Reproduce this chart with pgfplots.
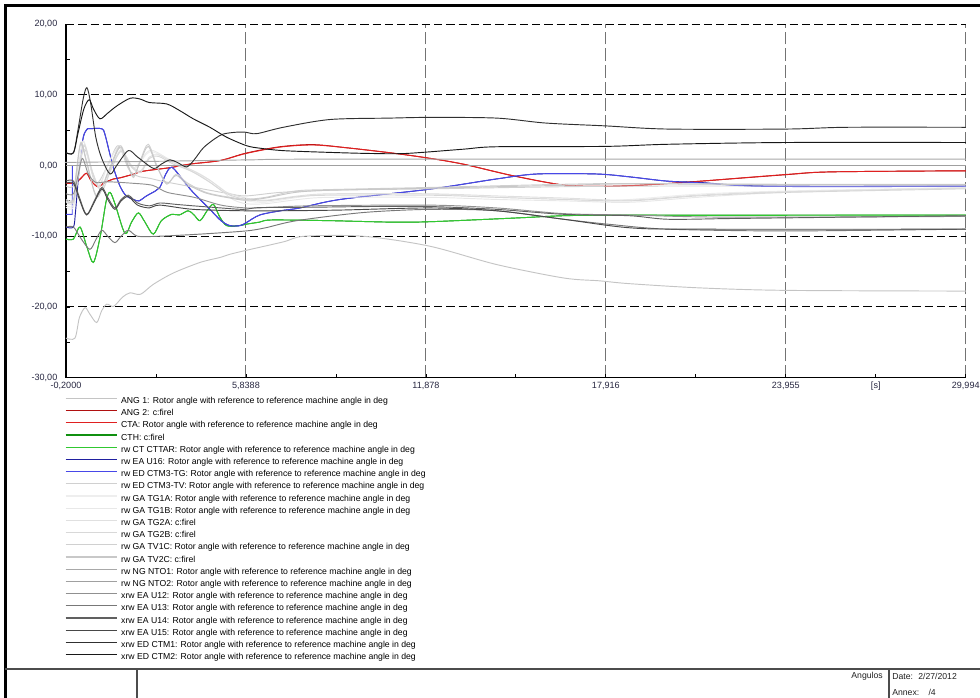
\documentclass[border=0pt]{standalone}
\usepackage{fontspec}
\setmainfont{Liberation Sans}
\usepackage{pgfplots}
\pgfplotsset{compat=1.18}
\newcommand\sm{\fontsize{6.8}{8}\selectfont}
\newcommand\legf{\fontsize{6.5}{8}\selectfont}
\definecolor{cang1}{HTML}{C4C4C4}
\definecolor{cang2}{HTML}{B01010}
\definecolor{ccta}{HTML}{E02020}
\definecolor{ccth}{HTML}{109010}
\definecolor{ccttar}{HTML}{30C830}
\definecolor{cu16}{HTML}{2020A0}
\definecolor{ctg}{HTML}{4848E8}
\definecolor{ctv}{HTML}{D0D0D0}
\definecolor{ctg1a}{HTML}{EEEEEE}
\definecolor{ctg1b}{HTML}{E8E8E8}
\definecolor{ctg2a}{HTML}{E0E0E0}
\definecolor{ctg2b}{HTML}{D8D8D8}
\definecolor{ctv1c}{HTML}{D0D0D0}
\definecolor{ctv2c}{HTML}{C8C8C8}
\definecolor{cnto1}{HTML}{A8A8A8}
\definecolor{cnto2}{HTML}{A0A0A0}
\definecolor{cu12}{HTML}{909090}
\definecolor{cu13}{HTML}{787878}
\definecolor{cu14}{HTML}{606060}
\definecolor{cu15}{HTML}{484848}
\definecolor{cctm1}{HTML}{303030}
\definecolor{cctm2}{HTML}{181818}
\definecolor{tickc}{HTML}{262640}
\definecolor{legc}{HTML}{202020}
\begin{document}
\begin{tikzpicture}
\begin{axis}[
  at={(49.5pt,-283.3pt)}, anchor=south west,
  width=674.8pt, height=265.3pt, scale only axis,
  xmin=-0.2, xmax=29.994, ymin=-30, ymax=20,
  clip=false,
  axis x line*=bottom, axis y line*=left,
  axis line style={line width=0.8pt, black},
  xtick={-0.2,5.8388,11.878,17.916,23.955,29.994},
  xticklabels={{-0,2000},{5,8388},{11,878},{17,916},{23,955},{29,994}},
  minor xtick={2.8194,8.8584,14.897,20.9355,26.9745},
  ytick={-30,-20,-10,0,10,20},
  yticklabels={{-30,00},{-20,00},{-10,00},{0,00},{10,00},{20,00}},
  minor ytick={-25,-15,-5,5,15},
  tick align=inside, major tick length=3pt, minor tick length=3pt,
  tick style={black, line width=0.6pt},
  xticklabel style={font=\sm, text=tickc, inner sep=0pt, anchor=north, yshift=-3pt},
  yticklabel style={font=\sm, text=tickc, inner sep=0pt, anchor=east, xshift=-6.3pt},
  grid=major,
  x grid style={color=black!55, dash pattern=on 9.5pt off 3pt, line width=0.75pt},
  y grid style={color=black, dash pattern=on 6.2pt off 3pt, line width=0.75pt},
  every axis plot/.append style={line width=0.7pt, mark=none, smooth},
  legend style={at={(axis description cs:0,0)}, anchor=north west, xshift=-0.75pt, yshift=-14.6pt,
    draw=none, fill=none, font=\legf, inner sep=0pt, outer sep=0pt, row sep=2.95pt,
    nodes={inner sep=0pt, text height=4.7pt, text depth=1.5pt},
    /tikz/every odd column/.append style={column sep=3pt}},
  legend cell align=left,
  legend image code/.code={\draw[#1, line width=0.95pt] (0pt,2.25pt) -- (38.2pt,2.25pt);},
]
% 1 ANG 1
\addplot[color=cang1] coordinates {(-0.2,-24.4)(0.1,-24.4)(0.25,-21.5)(0.44,-20.1)(0.6,-21.0)(0.83,-22.2)(1.0,-20.5)(1.17,-19.6)(1.4,-19.9)(1.7,-18.6)(1.95,-18.0)(2.3,-18.2)(2.73,-16.8)(3.4,-15.2)(4.3,-13.7)(4.97,-13.0)(5.3,-12.55)(5.84,-12.0)(7.09,-10.8)(7.8,-10.0)(9.77,-10.0)(12.0,-11.4)(14.25,-14.0)(16.5,-15.9)(17.7,-16.3)(18.7,-16.7)(21.07,-17.3)(23.96,-17.65)(29.994,-17.75)};
\addlegendentry{ANG 1: Rotor angle with reference to reference machine angle in deg}
% 2 ANG 2
\addplot[color=cang2] coordinates {(-0.2,-2.5)(0.1,-2.5)(0.3,-1.8)(0.49,-1.1)(0.65,-2.2)(0.87,-3.0)(1.1,-2.4)(1.4,-1.9)(1.61,-1.75)(2.0,-1.3)(2.4,-0.8)(3.3,-0.3)(3.96,0.2)(4.97,0.7)(5.84,1.75)(6.98,2.65)(8.09,2.95)(9.23,2.5)(10.67,1.8)(11.88,1.1)(13.12,0.2)(14.8,-1.45)(16.47,-2.75)(17.7,-2.95)(19.0,-2.8)(20.83,-2.3)(23.96,-1.3)(25.5,-0.9)(29.994,-0.75)};
\addlegendentry{ANG 2: c:firel}
% 3 CTA
\addplot[color=ccta] coordinates {(-0.2,-2.5)(0.1,-2.5)(0.3,-1.8)(0.49,-1.1)(0.65,-2.2)(0.87,-3.0)(1.1,-2.4)(1.4,-1.9)(1.61,-1.75)(2.0,-1.3)(2.4,-0.8)(3.3,-0.3)(3.96,0.2)(4.97,0.7)(5.84,1.7)(6.98,2.6)(8.09,2.9)(9.23,2.5)(10.67,1.8)(11.88,1.1)(13.12,0.2)(14.8,-1.45)(16.47,-2.75)(17.7,-2.95)(19.0,-2.8)(20.83,-2.3)(23.96,-1.27)(25.5,-0.9)(29.994,-0.75)};
\addlegendentry{CTA: Rotor angle with reference to reference machine angle in deg}
% 4 CTH
\addplot[color=ccth] coordinates {(-0.2,-10.4)(0.05,-10.4)(0.27,-8.7)(0.5,-11.5)(0.72,-13.7)(0.95,-10.0)(1.15,-5.0)(1.28,-3.8)(1.45,-5.5)(1.78,-9.6)(2.0,-8.0)(2.23,-6.7)(2.45,-8.0)(2.73,-9.7)(3.0,-7.8)(3.35,-6.9)(3.6,-7.0)(3.9,-6.4)(4.1,-7.0)(4.3,-7.8)(4.55,-6.3)(4.75,-5.5)(4.95,-7.2)(5.19,-8.5)(5.6,-8.5)(5.84,-8.3)(6.3,-8.0)(6.7,-7.7)(8.66,-7.8)(10.67,-8.0)(12,-7.95)(15,-7.4)(16.5,-7.1)(18.7,-7.0)(29.994,-7.0)};
\addlegendentry{CTH: c:firel}
% 5 rw CT CTTAR
\addplot[color=ccttar] coordinates {(-0.2,-10.4)(0.05,-10.4)(0.27,-8.7)(0.5,-11.5)(0.72,-13.7)(0.95,-10.0)(1.15,-5.0)(1.28,-3.8)(1.45,-5.5)(1.78,-9.6)(2.0,-8.0)(2.23,-6.7)(2.45,-8.0)(2.73,-9.7)(3.0,-7.8)(3.35,-6.9)(3.6,-7.0)(3.9,-6.4)(4.1,-7.0)(4.3,-7.8)(4.55,-6.3)(4.75,-5.5)(4.95,-7.2)(5.19,-8.5)(5.6,-8.5)(5.84,-8.3)(6.3,-8.0)(6.7,-7.7)(8.66,-7.8)(10.67,-8.0)(12,-7.95)(15,-7.4)(16.5,-7.1)(18.7,-7.0)(21,-7.05)(29.994,-7.0)};
\addlegendentry{rw CT CTTAR: Rotor angle with reference to reference machine angle in deg}
% 6 rw EA U16
\addplot[color=cu16] coordinates {(-0.2,-8.7)(0.05,-8.7)(0.12,-6.5)(0.2,-2.5)(0.27,0.6)(0.38,4.0)(0.5,5.1)(0.6,5.2)(1.0,5.2)(1.1,4.5)(1.25,2.0)(1.39,-0.3)(1.6,-2.8)(1.8,-4.2)(2.06,-4.8)(2.25,-5.0)(2.5,-4.3)(2.8,-3.6)(2.95,-3.1)(3.15,-1.2)(3.3,-0.3)(3.45,-0.6)(3.96,-3.3)(4.3,-4.8)(4.63,-6.2)(5.0,-7.8)(5.3,-8.5)(5.64,-8.5)(5.84,-8.1)(6.3,-7.0)(7.0,-6.4)(7.65,-6.0)(9.0,-4.8)(12.0,-3.35)(14.25,-1.9)(15.6,-1.2)(17.6,-1.2)(18.7,-1.6)(19.95,-2.2)(21.07,-2.4)(23.3,-2.9)(29.994,-2.9)};
\addlegendentry{rw EA U16: Rotor angle with reference to reference machine angle in deg}
% 7 rw ED CTM3-TG (initial step drawn sharp, rest smooth)
\addplot[color=ctg, sharp plot, forget plot] coordinates {(-0.2,-6.9)(0.01,-6.9)(0.012,0.0)(0.2,0.0)};
\addplot[color=ctg] coordinates {(0.2,0.0)(0.27,0.6)(0.38,4.0)(0.5,5.1)(0.6,5.2)(1.0,5.2)(1.1,4.5)(1.25,2.0)(1.39,-0.3)(1.6,-2.8)(1.8,-4.2)(2.06,-4.8)(2.25,-5.0)(2.5,-4.3)(2.8,-3.6)(2.95,-3.1)(3.15,-1.2)(3.3,-0.3)(3.45,-0.6)(3.96,-3.3)(4.3,-4.8)(4.63,-6.2)(5.0,-7.8)(5.3,-8.5)(5.64,-8.5)(5.84,-8.1)(6.3,-7.0)(7.0,-6.4)(7.65,-6.0)(9.0,-4.8)(12.0,-3.35)(14.25,-1.9)(15.6,-1.2)(17.6,-1.2)(18.7,-1.6)(19.95,-2.2)(21.07,-2.45)(23.3,-2.95)(29.994,-2.95)};
\addlegendentry{rw ED CTM3-TG: Rotor angle with reference to reference machine angle in deg}
% 8 rw ED CTM3-TV
\addplot[color=ctv] coordinates {(-0.2,-2.9)(0.05,-2.9)(0.25,0.5)(0.45,2.2)(0.8,-2.5)(1.2,0.0)(1.55,2.8)(1.9,-0.5)(2.2,-1.5)(2.6,-1.8)(3.0,-2.2)(3.5,-2.6)(4.5,-3.4)(5.3,-4.0)(5.84,-4.3)(7.0,-3.8)(8.66,-3.5)(12,-3.3)(16.5,-3.0)(20,-2.9)(29.994,-2.9)};
\addlegendentry{rw ED CTM3-TV: Rotor angle with reference to reference machine angle in deg}
% 9 rw GA TG1A
\addplot[color=ctg1a] coordinates {(-0.2,-5.9)(0.05,-5.9)(0.2,-1.0)(0.38,3.5)(0.6,0.0)(0.9,-3.0)(1.2,0.0)(1.55,2.6)(1.8,1.0)(2.1,-0.5)(2.5,1.6)(2.73,1.9)(3.29,0.7)(3.8,-0.3)(4.3,-1.2)(4.97,-3.1)(5.4,-4.5)(5.84,-5.0)(6.5,-5.2)(7.6,-4.5)(8.66,-4.05)(12.0,-4.05)(14.25,-4.5)(16.5,-4.76)(18.0,-5.0)(21.0,-4.05)(24.0,-3.6)(29.994,-3.1)};
\addlegendentry{rw GA TG1A: Rotor angle with reference to reference machine angle in deg}
% 10 rw GA TG1B
\addplot[color=ctg1b] coordinates {(-0.2,-5.6)(0.05,-5.6)(0.2,-0.8)(0.38,3.4)(0.6,0.2)(0.9,-2.8)(1.2,0.2)(1.55,2.5)(1.8,1.1)(2.1,-0.3)(2.5,1.8)(2.73,2.1)(3.29,0.8)(3.8,-0.4)(4.3,-1.4)(4.97,-3.4)(5.4,-4.8)(5.84,-5.4)(6.5,-5.4)(7.6,-4.8)(8.66,-4.5)(12.0,-4.5)(14.25,-4.8)(16.5,-5.0)(18.7,-5.2)(21.0,-4.5)(24.0,-3.8)(29.994,-3.2)};
\addlegendentry{rw GA TG1B: Rotor angle with reference to reference machine angle in deg}
% 11 rw GA TG2A
\addplot[color=ctg2a] coordinates {(-0.2,-5.0)(0.05,-5.0)(0.25,-0.5)(0.42,3.0)(0.7,-1.0)(1.0,-3.5)(1.3,-0.5)(1.65,2.2)(2.0,0.0)(2.3,-0.8)(2.6,1.2)(2.9,1.5)(3.4,0.4)(4.0,-0.6)(4.6,-2.0)(5.2,-3.8)(5.84,-4.6)(6.5,-4.9)(7.6,-4.3)(8.66,-4.0)(12,-4.0)(14.25,-4.3)(16.5,-4.6)(18.7,-4.9)(21,-4.2)(24,-3.7)(29.994,-3.2)};
\addlegendentry{rw GA TG2A: c:firel}
% 12 rw GA TG2B
\addplot[color=ctg2b] coordinates {(-0.2,-5.2)(0.05,-5.2)(0.25,-0.7)(0.42,2.8)(0.7,-1.2)(1.0,-3.6)(1.3,-0.7)(1.65,2.0)(2.0,-0.2)(2.3,-1.0)(2.6,1.0)(2.9,1.3)(3.4,0.2)(4.0,-0.8)(4.6,-2.3)(5.2,-4.0)(5.84,-4.8)(6.5,-5.0)(7.6,-4.4)(8.66,-4.2)(12,-4.2)(14.25,-4.5)(16.5,-4.8)(18.7,-5.0)(21,-4.3)(24,-3.8)(29.994,-3.3)};
\addlegendentry{rw GA TG2B: c:firel}
% 13 rw GA TV1C
\addplot[color=ctv1c] coordinates {(-0.2,-5.0)(0.05,-5.0)(0.15,-1.0)(0.3,3.3)(0.5,0.5)(0.83,-4.5)(1.2,-1.0)(1.61,2.8)(1.85,0.5)(2.06,-1.7)(2.3,0.8)(2.56,3.0)(2.85,0.0)(3.18,-2.65)(3.5,-1.2)(3.85,-2.4)(4.5,-3.8)(5.3,-4.5)(5.84,-4.76)(6.5,-4.5)(7.5,-3.6)(8.66,-3.4)(12.0,-3.1)(16.5,-2.65)(18.7,-2.55)(24.0,-2.65)(29.994,-2.65)};
\addlegendentry{rw GA TV1C: Rotor angle with reference to reference machine angle in deg}
% 14 rw GA TV2C
\addplot[color=ctv2c] coordinates {(-0.2,-4.8)(0.05,-4.8)(0.15,-0.8)(0.3,3.1)(0.5,0.3)(0.83,-4.3)(1.2,-1.2)(1.61,2.6)(1.85,0.3)(2.06,-1.5)(2.3,0.6)(2.56,2.7)(2.85,-0.2)(3.18,-2.5)(3.5,-1.4)(3.85,-2.6)(4.5,-3.9)(5.3,-4.6)(5.84,-4.9)(6.5,-4.6)(7.5,-3.8)(8.66,-3.5)(12.0,-3.2)(16.5,-2.8)(18.7,-2.6)(24.0,-2.7)(29.994,-2.7)};
\addlegendentry{rw GA TV2C: c:firel}
% 15 rw NG NTO1
\addplot[color=cnto1] coordinates {(-0.2,0.45)(0.05,0.45)(3.0,0.6)(6.0,0.8)(9.0,0.9)(29.994,0.9)};
\addlegendentry{rw NG NTO1: Rotor angle with reference to reference machine angle in deg}
% 16 rw NG NTO2
\addplot[color=cnto2, line width=0.9pt] coordinates {(-0.2,0.0)(10,0.0)(29.994,0.0)};
\addlegendentry{rw NG NTO2: Rotor angle with reference to reference machine angle in deg}
% 17 xrw EA U12
\addplot[color=cu12] coordinates {(-0.2,-4.0)(0.05,-4.0)(0.2,-1.5)(0.35,1.0)(0.55,-1.2)(0.8,-2.4)(1.2,-2.3)(2.0,-2.5)(2.7,-2.8)(3.2,-3.8)(4.1,-4.5)(5.0,-5.6)(5.84,-6.0)(6.5,-5.95)(8.0,-5.7)(12,-5.6)(14.25,-6.0)(16.5,-6.8)(18.7,-7.0)(22,-7.3)(29.994,-7.2)};
\addlegendentry{xrw EA U12: Rotor angle with reference to reference machine angle in deg}
% 18 xrw EA U13
\addplot[color=cu13] coordinates {(-0.2,-8.7)(0.05,-8.7)(0.3,-10.3)(0.6,-11.85)(0.8,-10.5)(1.0,-9.15)(1.2,-10.0)(1.44,-10.9)(1.65,-10.0)(1.89,-9.15)(2.2,-10.0)(2.9,-10.0)(4.3,-9.7)(5.84,-9.25)(6.5,-8.8)(7.54,-7.8)(9.77,-6.65)(12.0,-6.2)(14.25,-6.4)(16.5,-7.6)(18.0,-8.3)(20.0,-9.0)(24.0,-9.25)(29.994,-9.0)};
\addlegendentry{xrw EA U13: Rotor angle with reference to reference machine angle in deg}
% 19 xrw EA U14
\addplot[color=cu14] coordinates {(-0.2,-2.2)(0.05,-2.2)(0.25,-4.5)(0.49,-6.9)(0.75,-5.0)(1.0,-3.1)(1.2,-4.5)(1.44,-6.0)(1.65,-4.8)(1.89,-4.2)(2.2,-5.3)(2.6,-5.7)(2.95,-5.3)(3.5,-5.5)(4.07,-5.7)(5.0,-6.0)(5.75,-6.2)(6.3,-5.95)(8.0,-5.9)(10.0,-5.8)(12.0,-5.8)(14.25,-6.2)(16.5,-6.9)(18.7,-7.1)(20.0,-7.6)(22.0,-7.5)(24.0,-7.4)(29.994,-7.1)};
\addlegendentry{xrw EA U14: Rotor angle with reference to reference machine angle in deg}
% 20 xrw EA U15
\addplot[color=cu15] coordinates {(-0.2,-2.5)(0.05,-2.5)(0.25,-4.8)(0.49,-7.0)(0.75,-5.2)(1.0,-3.3)(1.2,-4.8)(1.44,-6.2)(1.65,-5.0)(1.89,-4.4)(2.2,-5.6)(2.6,-6.0)(2.95,-5.6)(4.07,-6.2)(5.75,-6.4)(7.0,-6.4)(9.0,-6.3)(12.0,-6.0)(14.25,-6.4)(16.5,-7.6)(18.7,-8.8)(21.0,-9.0)(29.994,-9.0)};
\addlegendentry{xrw EA U15: Rotor angle with reference to reference machine angle in deg}
% 21 xrw ED CTM1
\addplot[color=cctm1] coordinates {(-0.2,1.8)(0.05,1.8)(0.2,5.0)(0.38,9.5)(0.5,11.0)(0.62,9.0)(0.8,4.0)(1.0,1.0)(1.28,-1.2)(1.5,0.0)(1.89,2.1)(2.2,1.2)(2.73,-0.4)(3.0,0.2)(3.29,0.8)(3.55,0.4)(3.85,-0.2)(4.1,0.8)(4.41,2.5)(4.8,3.8)(5.08,4.45)(5.5,4.7)(5.84,4.7)(6.2,4.5)(7.09,5.4)(8.66,6.5)(10.67,6.7)(12.0,6.8)(14.25,6.7)(15.9,6.0)(17.9,5.6)(20.0,5.15)(23.96,5.15)(26.0,5.4)(29.994,5.4)};
\addlegendentry{xrw ED CTM1: Rotor angle with reference to reference machine angle in deg}
% 22 xrw ED CTM2
\addplot[color=cctm2] coordinates {(-0.2,1.8)(0.05,1.8)(0.2,4.5)(0.4,8.0)(0.58,9.3)(0.72,8.0)(0.94,6.6)(1.2,7.4)(1.5,8.4)(1.95,9.5)(2.28,9.4)(2.6,8.9)(3.18,8.7)(3.62,7.75)(4.07,6.6)(4.63,5.4)(5.19,4.0)(5.86,2.8)(6.3,2.45)(7.09,2.1)(8.66,1.85)(10.0,1.7)(11.2,1.7)(13.12,2.3)(14.25,2.65)(17.9,2.7)(20.0,3.0)(23.96,3.25)(29.994,3.25)};
\addlegendentry{xrw ED CTM2: Rotor angle with reference to reference machine angle in deg}
\node[font=\sm, text=tickc, inner sep=0pt, anchor=north, yshift=-3pt] at (axis cs:26.9745,-30) {[s]};
\end{axis}
\begin{scope}[x=0.75pt,y=-0.75pt]
\draw[line width=2.5pt, black] (5.2,700) -- (5.2,5.5) -- (985,5.5);
\draw[line width=0.9pt, black!70] (5,669) -- (985,669);
\draw[line width=0.9pt, black!70] (137,669) -- (137,700);
\draw[line width=0.9pt, black!70] (889,669) -- (889,700);
\node[font=\legf, text=legc, anchor=east, inner sep=0pt] at (883,676) {Angulos};
\node[font=\legf, text=legc, anchor=west, inner sep=0pt] at (892,676) {Date:\hspace{4pt}2/27/2012};
\node[font=\legf, text=legc, anchor=west, inner sep=0pt] at (892,692.5) {Annex:\hspace{7pt}/4};
\end{scope}
\pgfresetboundingbox
\path[use as bounding box] (0pt,0pt) rectangle (735pt,-523.5pt);
\end{tikzpicture}
\end{document}
